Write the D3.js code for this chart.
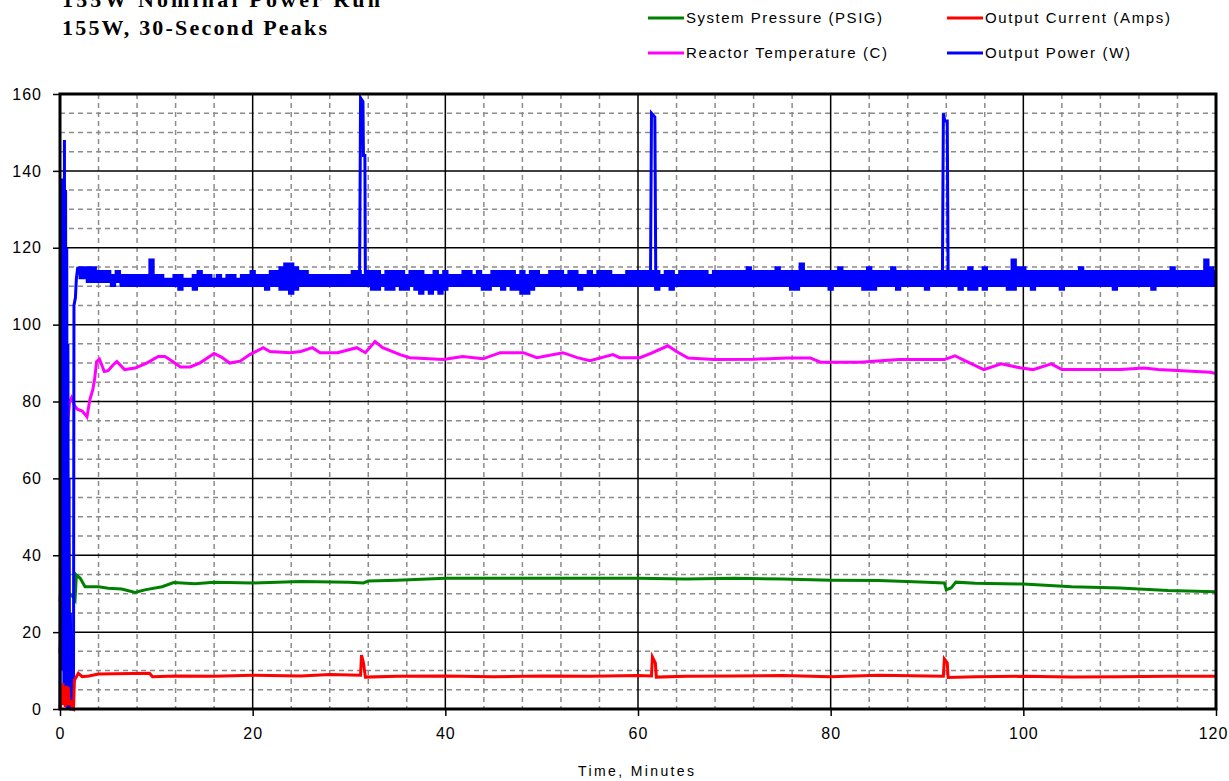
<!DOCTYPE html>
<html>
<head>
<meta charset="utf-8">
<script src="https://cdn.jsdelivr.net/npm/d3@7"></script>
<style>
  body { margin: 0; background: #fff; }
  svg { display: block; }
  .tick text { font-family: "Liberation Sans", Arial, sans-serif; font-size: 16px; letter-spacing: 1px; fill: #000; }
  .legend text { font-family: "Liberation Sans", Arial, sans-serif; font-size: 15px; fill: #000; }
</style>
</head>
<body>
<div id="chart"></div>
<script>
// tick values
var xTicks = [0, 20, 40, 60, 80, 100, 120];
var yTicks = [0, 20, 40, 60, 80, 100, 120, 140, 160];

// series names
var seriesNames = ["System Pressure (PSIG)", "Output Current (Amps)", "Reactor Temperature (C)", "Output Power (W)"];

// output power: start-up [minutes, W]
var powerStart = [[0,0],[0.1,90],[0.15,20],[0.22,138],[0.28,10],[0.35,130],[0.4,4],[0.46,148],[0.52,6],[0.58,135],[0.64,2],
  [0.7,120],[0.76,0],[0.82,95],[0.88,1],[0.94,60],[1.0,0],[1.08,25],[1.15,0],[1.3,0],[1.4,2],[1.45,105],[1.6,107],[1.7,112],[1.85,115],[2,113]];

// output power: steady running, band of the noisy trace read every half minute from 2 to 120 min
var powerHigh = [
  115,115,115,115,114,114,114,113,114,113,113,113,113,113,113,117,113,113,112,112,
  113,113,112,112,113,114,113,113,112,113,112,113,113,112,113,113,114,113,113,113,
  114,114,115,116,116,115,114,114,113,113,113,113,113,113,113,113,113,114,114,113,
  114,114,114,113,114,114,114,114,113,114,114,114,113,113,114,113,114,113,113,113,
  114,114,113,114,113,113,114,114,114,114,114,113,114,113,114,114,113,113,114,114,
  114,113,114,114,113,113,114,113,114,114,114,113,113,113,114,114,114,114,114,114,
  114,113,114,114,113,114,114,114,114,114,114,113,114,114,114,114,114,114,114,115,
  114,114,114,114,114,115,114,114,114,114,116,114,114,114,114,114,114,114,115,114,
  114,114,114,114,115,114,114,114,114,115,114,114,114,114,114,114,114,114,114,114,
  114,114,114,114,114,115,114,114,115,114,114,114,114,114,117,115,115,114,114,114,
  114,114,114,114,114,114,114,114,115,114,114,114,114,114,114,114,114,114,114,114,
  114,114,114,114,114,114,114,115,114,114,114,114,114,114,117,115,114
];
var powerLow = [
  112,112,111,111,111,111,111,110,111,110,110,110,110,110,110,110,110,110,110,110,
  110,109,110,110,109,110,110,110,110,110,110,110,110,110,110,110,110,110,110,109,
  110,110,109,109,108,109,110,110,110,110,110,110,110,110,110,110,110,110,110,110,
  110,109,109,110,109,109,110,109,109,110,109,108,109,108,109,108,109,110,110,110,
  110,110,110,110,109,109,110,110,109,110,109,109,108,108,109,110,110,110,110,110,
  110,110,110,110,109,110,110,110,110,110,110,110,110,110,110,110,110,110,110,110,
  109,110,110,109,110,110,110,110,110,110,110,110,110,110,110,110,110,110,110,110,
  110,110,110,110,110,110,110,110,109,109,110,110,110,110,110,110,109,110,110,110,
  110,110,110,109,109,109,110,110,110,110,109,110,110,110,110,110,109,110,110,110,
  110,110,110,109,110,109,109,110,109,110,110,110,110,109,109,110,110,110,109,110,
  110,110,110,110,109,110,110,110,110,110,110,110,110,110,110,109,110,110,110,110,
  110,110,110,109,110,110,110,110,110,110,110,110,110,110,110,110,110
];

// output power: the three 30-second peaks [minutes, W]
var powerPeaks = [
  [[31.1,112],[31.2,159],[31.45,158],[31.5,144],[31.65,144],[31.7,110]],
  [[61.3,113],[61.4,155],[61.75,154],[61.85,110]],
  [[91.6,112],[91.7,155],[91.85,153],[92.1,153],[92.2,110]]
];

// reactor temperature [minutes, C]
var temperature = [[0,28],[0.1,32],[0.3,45],[0.5,60],[0.7,72],[0.85,76],[1.0,80],[1.2,81],[1.5,79],[1.8,78],[2.3,77.5],
  [2.8,76],[3.1,80.5],[3.4,83],[3.6,86],[3.8,90.4],[4.1,91],[4.6,87.8],[5.0,88],[5.5,89.5],[5.9,90.4],[6.7,88.3],
  [7.8,88.7],[9,90],[10.2,91.7],[10.9,91.7],[11.7,90.4],[12.5,89],[13.5,89],[14.5,90],[16,92.5],[16.8,91.5],
  [17.6,90],[18.7,90.5],[19.7,92.2],[21.1,94],[21.8,93],[23.9,92.7],[25,93],[26.2,94],[27,92.7],[28.8,92.7],
  [30.8,94],[31.7,92.7],[32.7,95.6],[33.5,94],[35.3,92.2],[36.3,91.4],[39.8,90.9],[41.8,91.7],[43.9,91.1],
  [45.7,92.7],[48.1,92.7],[49.5,91.4],[52.2,92.7],[53.7,91.4],[55,90.6],[57.4,92.2],[58.1,91.4],[60.2,91.4],
  [61.4,92.6],[63.1,94.5],[64,93],[65.2,91.3],[67.9,90.9],[72,91],[75.6,91.3],[77.9,91.3],[79,90.2],[83,90.2],
  [87.1,90.9],[91.8,90.9],[92.9,91.9],[93.7,90.9],[95.9,88.3],[97.7,89.8],[99.8,88.7],[101,88.3],[102.9,89.8],
  [104,88.3],[110.1,88.3],[112.5,88.7],[114,88.3],[119.4,87.6],[120,87.3]];

// system pressure [minutes, PSIG]
var pressure = [[0,14.5],[0.1,21],[0.3,25],[0.6,28],[1.0,30],[1.4,29],[1.56,28.4],[1.7,34.9],[2.1,34],[2.6,31.8],
  [4,31.8],[5,31.4],[6.4,31.2],[7.8,30.3],[8.8,31],[10.6,31.8],[11.8,32.9],[14,32.6],[16,33],[20,32.8],[25,33.2],
  [30,33],[31.5,32.8],[32,33.3],[35,33.5],[40,34],[45,34],[50,34],[55,34],[60,34],[65,33.8],[70,34],[75,33.8],
  [80,33.5],[85,33.4],[90,33],[91.8,32.8],[92,31],[92.5,31.5],[93,33],[95,32.7],[100,32.5],[105,31.8],[110,31.5],
  [115,30.8],[120,30.5]];

// output current [minutes, A]
var current = [[0,0],[0.1,4],[0.2,5],[0.25,1],[0.3,6.7],[0.4,1],[0.5,5],[0.55,0.5],[0.65,6],[0.75,1],[0.85,5.8],
  [0.95,1],[1.1,2.3],[1.25,0.3],[1.4,0],[1.5,7.5],[1.9,9.3],[2.3,8.4],[3,8.6],[4,9.1],[9.3,9.3],[9.6,8.4],[12,8.6],
  [16,8.5],[20,8.8],[25,8.6],[28,9],[31.2,8.8],[31.3,14],[31.5,12],[31.7,8.3],[35,8.5],[40,8.6],[45,8.4],[50,8.6],
  [55,8.5],[60,8.7],[61.4,8.6],[61.5,13.5],[61.8,12],[61.9,8.3],[65,8.5],[70,8.6],[75,8.7],[80,8.4],[85,8.8],
  [90,8.6],[91.7,8.5],[91.8,13],[92.1,12],[92.2,8.2],[95,8.4],[100,8.5],[105,8.3],[110,8.4],[115,8.5],[120,8.5]];

var width = 1229, height = 781;
var margin = {top: 94, right: 13, bottom: 72, left: 60};

var x = d3.scaleLinear().domain([0, 120]).range([margin.left, width - margin.right]);
var y = d3.scaleLinear().domain([0, 160]).range([height - margin.bottom, margin.top]);

var svg = d3.select("#chart").append("svg")
    .attr("width", width)
    .attr("height", height);

// titles (first line is cut off by the top edge, as in the original)
svg.append("text")
    .attr("x", 62).attr("y", 7)
    .style("font-family", "'Liberation Serif', serif")
    .style("font-weight", "bold").style("font-size", "22px")
    .attr("textLength", 318).attr("lengthAdjust", "spacing")
    .text("155W Nominal Power Run");
svg.append("text")
    .attr("x", 62).attr("y", 35)
    .style("font-family", "'Liberation Serif', serif")
    .style("font-weight", "bold").style("font-size", "22px")
    .attr("textLength", 265).attr("lengthAdjust", "spacing")
    .text("155W, 30-Second Peaks");

// minor grid
var minorX = d3.range(0, 121, 4).filter(function(d) { return d % 20 !== 0; });
var minorY = d3.range(0, 161, 5).filter(function(d) { return d % 20 !== 0; });
svg.append("g").selectAll("line").data(minorX).join("line")
    .attr("x1", d => x(d)).attr("x2", d => x(d))
    .attr("y1", y(160)).attr("y2", y(0))
    .attr("stroke", "#8c8c8c").attr("stroke-width", 1.5).attr("stroke-dasharray", "5,4");
svg.append("g").selectAll("line").data(minorY).join("line")
    .attr("x1", x(0)).attr("x2", x(120))
    .attr("y1", d => y(d)).attr("y2", d => y(d))
    .attr("stroke", "#8c8c8c").attr("stroke-width", 1.5).attr("stroke-dasharray", "5,4");

// major grid
svg.append("g").selectAll("line").data(xTicks.slice(1, -1)).join("line")
    .attr("x1", d => x(d)).attr("x2", d => x(d))
    .attr("y1", y(160)).attr("y2", y(0))
    .attr("stroke", "#000").attr("stroke-width", 1.5);
svg.append("g").selectAll("line").data(yTicks.slice(1, -1)).join("line")
    .attr("x1", x(0)).attr("x2", x(120))
    .attr("y1", d => y(d)).attr("y2", d => y(d))
    .attr("stroke", "#000").attr("stroke-width", 1.5);

var line = d3.line()
    .x(function(d) { return x(d[0]); })
    .y(function(d) { return y(d[1]); });

var plot = svg.append("g");
function addLine(data, colour) {
  plot.append("path")
      .datum(data)
      .attr("fill", "none")
      .attr("stroke", colour)
      .attr("stroke-width", 3)
      .attr("d", line);
}

addLine(temperature, "#ff00ff");
addLine(pressure, "#008000");

// power: start-up trace, noisy band, peaks
addLine(powerStart, "#0000ff");
var band = powerHigh.map(function(h, i) { return {t: 2 + i * 0.5, hi: h, lo: powerLow[i]}; });
var bandArea = d3.area()
    .curve(d3.curveStep)
    .x(function(d) { return x(d.t); })
    .y0(function(d) { return y(d.lo); })
    .y1(function(d) { return y(d.hi); });
plot.append("path")
    .datum(band)
    .attr("fill", "#0000ff")
    .attr("stroke", "#0000ff")
    .attr("stroke-width", 1.5)
    .attr("d", bandArea);
powerPeaks.forEach(function(p) { addLine(p, "#0000ff"); });

addLine(current, "#ff0000");

// frame
svg.append("rect")
    .attr("x", x(0)).attr("y", y(160))
    .attr("width", x(120) - x(0)).attr("height", y(0) - y(160))
    .attr("fill", "none").attr("stroke", "#000").attr("stroke-width", 3);

// axes
svg.append("g")
    .attr("transform", "translate(0," + y(0) + ")")
    .call(d3.axisBottom(x).tickValues(xTicks).tickSize(7).tickPadding(12).tickFormat(d3.format("d")))
    .call(g => g.select(".domain").remove())
    .call(g => g.selectAll(".tick line").attr("stroke", "#000").attr("stroke-width", 1.5))
    .call(g => g.selectAll(".tick text").filter(d => d === 120).attr("dx", "-3"));
svg.append("g")
    .attr("transform", "translate(" + x(0) + ",0)")
    .call(d3.axisLeft(y).tickValues(yTicks).tickSize(7).tickPadding(11).tickFormat(d3.format("d")))
    .call(g => g.select(".domain").remove())
    .call(g => g.selectAll(".tick line").attr("stroke", "#000").attr("stroke-width", 1.5));

svg.append("text")
    .attr("x", 636).attr("y", 776)
    .attr("text-anchor", "middle")
    .style("font-family", "'Liberation Sans', Arial, sans-serif")
    .style("font-size", "14px")
    .attr("textLength", 116).attr("lengthAdjust", "spacing")
    .text("Time, Minutes");

// legend
var legendItems = [
  {name: seriesNames[0], colour: "#008000", lx: 648, ly: 18, w: 196},
  {name: seriesNames[1], colour: "#ff0000", lx: 947, ly: 18, w: 185},
  {name: seriesNames[2], colour: "#ff00ff", lx: 648, ly: 53, w: 201},
  {name: seriesNames[3], colour: "#0000ff", lx: 947, ly: 53, w: 145}
];
var legend = svg.append("g").attr("class", "legend");
var li = legend.selectAll("g").data(legendItems).join("g")
    .attr("transform", d => "translate(" + d.lx + "," + d.ly + ")");
li.append("line")
    .attr("x1", 0).attr("x2", 36)
    .attr("stroke", d => d.colour).attr("stroke-width", 3);
li.append("text")
    .attr("x", 38).attr("dy", "0.35em")
    .attr("textLength", d => d.w).attr("lengthAdjust", "spacing")
    .text(d => d.name);
</script>
</body>
</html>
